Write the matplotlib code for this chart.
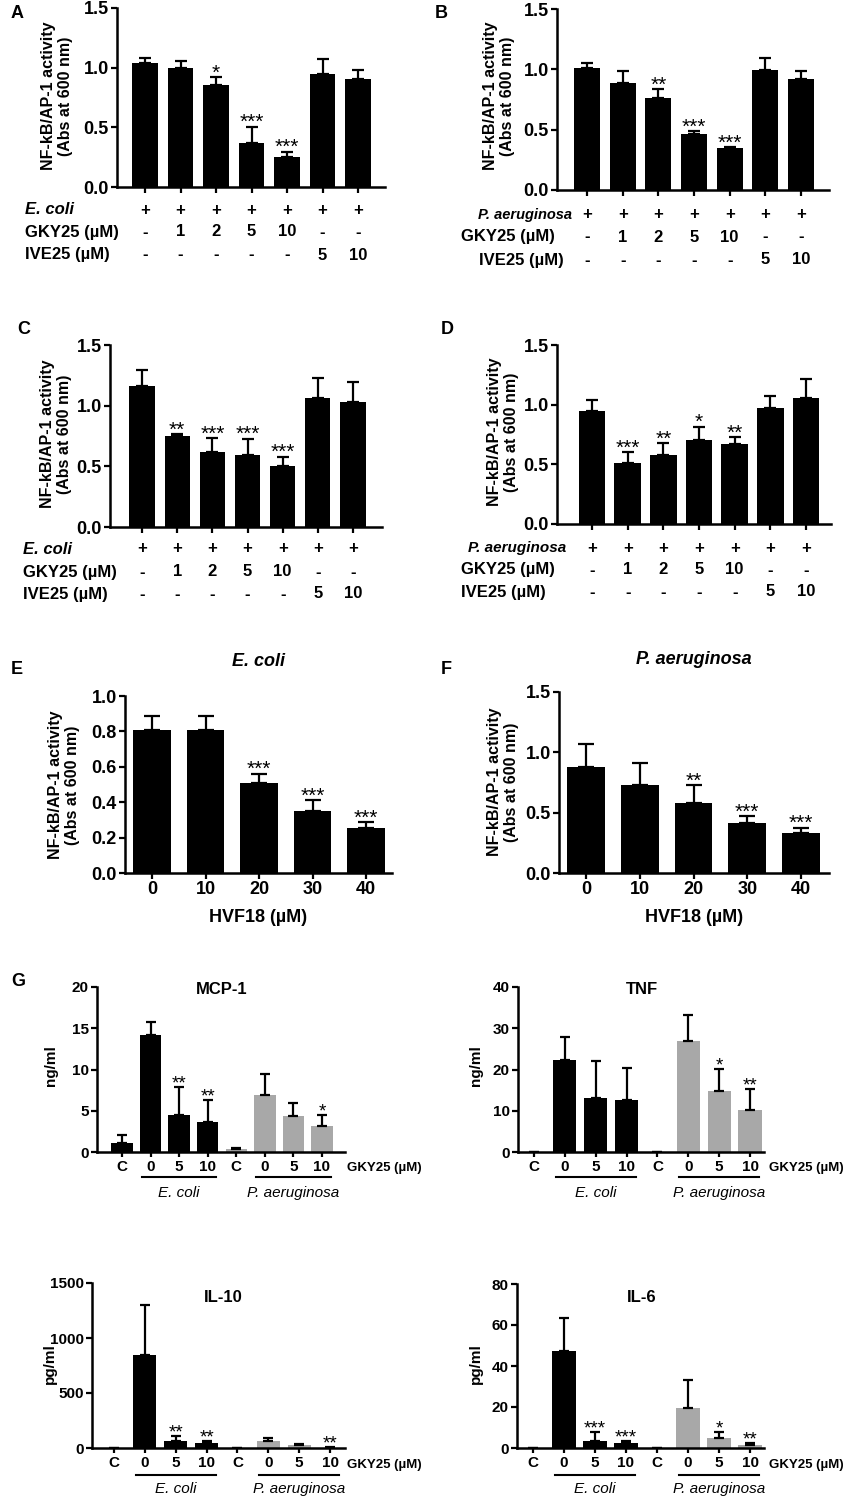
import numpy as np
import matplotlib
matplotlib.use('Agg')
import matplotlib.pyplot as plt

plt.rcParams['font.family'] = ['Liberation Sans', 'DejaVu Sans']
plt.rcParams['font.weight'] = 'bold'

# ---- data: panels A-D (NF-kB/AP-1 reporter, GKY25 / IVE25) ----
bact_row = ['+', '+', '+', '+', '+', '+', '+']
gky_row = ['-', '1', '2', '5', '10', '-', '-']
ive_row = ['-', '-', '-', '-', '-', '5', '10']

A_mean = [1.04, 1.00, 0.855, 0.366, 0.254, 0.947, 0.908]
A_err = [0.04, 0.056, 0.065, 0.14, 0.042, 0.128, 0.07]
A_sig = ['', '', '*', '***', '***', '', '']

B_mean = [1.008, 0.884, 0.765, 0.464, 0.351, 0.992, 0.923]
B_err = [0.047, 0.105, 0.069, 0.025, 0.005, 0.105, 0.06]
B_sig = ['', '', '**', '***', '***', '', '']

C_mean = [1.166, 0.746, 0.622, 0.594, 0.50, 1.061, 1.033]
C_err = [0.132, 0.02, 0.11, 0.133, 0.08, 0.163, 0.166]
C_sig = ['', '**', '***', '***', '***', '', '']

D_mean = [0.95, 0.514, 0.581, 0.704, 0.668, 0.969, 1.056]
D_err = [0.089, 0.086, 0.095, 0.112, 0.058, 0.106, 0.159]
D_sig = ['', '***', '**', '*', '**', '', '']

# ---- data: panels E-F (HVF18) ----
hvf_doses = ['0', '10', '20', '30', '40']
E_mean = [0.806, 0.806, 0.51, 0.35, 0.256]
E_err = [0.082, 0.082, 0.05, 0.06, 0.03]
E_sig = ['', '', '***', '***', '***']
F_mean = [0.88, 0.73, 0.579, 0.416, 0.334]
F_err = [0.193, 0.183, 0.149, 0.053, 0.04]
F_sig = ['', '', '**', '***', '***']

# ---- data: panel G (cytokines) ----
cyto_labels = ['C', '0', '5', '10', 'C', '0', '5', '10']
mcp_mean = [1.06, 14.2, 4.5, 3.66, 0.4, 6.95, 4.39, 3.17]
mcp_err = [1.0, 1.6, 3.35, 2.68, 0.1, 2.48, 1.5, 1.3]
mcp_sig = ['', '', '**', '**', '', '', '', '*']
tnf_mean = [0, 22.4, 13.1, 12.7, 0, 26.8, 14.8, 10.2]
tnf_err = [0, 5.6, 9.0, 7.7, 0, 6.5, 5.3, 5.1]
tnf_sig = ['', '', '', '', '', '', '*', '**']
il10_mean = [0, 849, 63, 42, 0, 63, 24, 2]
il10_err = [0, 453, 46, 22, 0, 25, 16, 3]
il10_sig = ['', '', '**', '**', '', '', '', '**']
il6_mean = [0, 47.4, 3.4, 2.3, 0, 19.6, 5.0, 1.6]
il6_err = [0, 15.9, 4.4, 1.1, 0, 13.7, 2.8, 1.0]
il6_sig = ['', '', '***', '***', '', '', '*', '**']

W, H = 847, 1499
fig = plt.figure(figsize=(W / 100, H / 100), dpi=100)


def fx(px):
    return px / W


def fy(py):
    return 1 - py / H


def panel(left, right, top, bottom, first, last, n, ylim, yticks):
    ax = fig.add_axes([fx(left), fy(bottom), (right - left) / W, (bottom - top) / H])
    step = (last - first) / (n - 1)
    ax.set_xlim((left - first) / step, (right - first) / step)
    ax.set_ylim(*ylim)
    ax.set_yticks(yticks)
    for s in ['top', 'right']:
        ax.spines[s].set_visible(False)
    for s in ['left', 'bottom']:
        ax.spines[s].set_linewidth(1.8)
    ax.set_xticks(np.arange(n))
    ax.tick_params(width=1.6, length=4, pad=2)
    ax.frac = lambda py: (bottom - py) / (bottom - top)
    return ax


def bars(ax, means, errs, sigs, colors, width, capsize, star_size):
    x = np.arange(len(means))
    ax.bar(x, means, width, color=colors, zorder=2)
    ax.errorbar(x, means, yerr=[np.zeros(len(errs)), errs], fmt='none',
                ecolor='black', elinewidth=1.6, capsize=capsize, capthick=1.6,
                zorder=3)
    for xi, m, e, s in zip(x, means, errs, sigs):
        if s:
            ax.annotate(s, (xi, m + e), xytext=(0, -1), textcoords='offset points',
                        ha='center', va='baseline', fontsize=star_size,
                        fontweight='normal')


def ylab(px, py, text, size=11.5):
    fig.text(fx(px), fy(py), text, rotation=90, ha='center', va='center',
             fontsize=size, linespacing=1.15)


def letter(px, py, text):
    fig.text(fx(px), fy(py), text, ha='left', va='center', fontsize=13)


def table(ax, rows_y, label_x, bact, bact_size=12):
    tr = ax.get_xaxis_transform()
    rows = [bact_row, gky_row, ive_row]
    names = [bact, 'GKY25 (µM)', 'IVE25 (µM)']
    for row, name, (py, lx) in zip(rows, names, zip(rows_y, label_x)):
        for i, v in enumerate(row):
            ax.text(i, ax.frac(py), v, transform=tr, ha='center', va='center',
                    fontsize=12)
        if name == bact:
            fig.text(fx(lx), fy(py), name, ha='left', va='center',
                     fontsize=bact_size, style='italic')
        else:
            fig.text(fx(lx), fy(py), name, ha='left', va='center', fontsize=12)


# ---- A ----
abcd_ticks = [0, 0.5, 1.0, 1.5]
ax = panel(117, 385, 8, 187, 145, 358, 7, (0, 1.5), abcd_ticks)
bars(ax, A_mean, A_err, A_sig, 'black', 0.72, 4, 15)
ax.set_xticklabels([])
ax.tick_params(labelsize=13)
table(ax, [210, 232, 255], [25, 25, 25], 'E. coli')
ylab(57, 96, 'NF-kB/AP-1 activity\n(Abs at 600 nm)')
letter(11, 14, 'A')

# ---- B ----
ax = panel(557, 829, 9, 190, 587, 801, 7, (0, 1.5), abcd_ticks)
bars(ax, B_mean, B_err, B_sig, 'black', 0.72, 4, 15)
ax.set_xticklabels([])
ax.tick_params(labelsize=13)
table(ax, [215, 237, 260], [478, 461, 479], 'P. aeruginosa', bact_size=10.5)
ylab(499, 96, 'NF-kB/AP-1 activity\n(Abs at 600 nm)')
letter(435, 14, 'B')

# ---- C ----
ax = panel(110, 382, 345, 527, 142, 353, 7, (0, 1.5), abcd_ticks)
bars(ax, C_mean, C_err, C_sig, 'black', 0.72, 4, 15)
ax.set_xticklabels([])
ax.tick_params(labelsize=13)
table(ax, [549, 572, 594], [23, 23, 23], 'E. coli')
ylab(56, 434, 'NF-kB/AP-1 activity\n(Abs at 600 nm)')
letter(17, 330, 'C')

# ---- D ----
ax = panel(557, 831, 345, 524, 592, 806, 7, (0, 1.5), abcd_ticks)
bars(ax, D_mean, D_err, D_sig, 'black', 0.74, 4, 15)
ax.set_xticklabels([])
ax.tick_params(labelsize=13)
table(ax, [548, 570, 592], [468, 461, 461], 'P. aeruginosa', bact_size=11)
ylab(503, 432, 'NF-kB/AP-1 activity\n(Abs at 600 nm)')
letter(441, 330, 'D')

# ---- E ----
ax = panel(125, 392, 696, 873, 152, 366, 5, (0, 1.0), [0, 0.2, 0.4, 0.6, 0.8, 1.0])
bars(ax, E_mean, E_err, E_sig, 'black', 0.71, 6, 15)
ax.set_xticklabels(hvf_doses)
ax.tick_params(labelsize=13)
ax.yaxis.set_major_formatter(matplotlib.ticker.FormatStrFormatter('%.1f'))
fig.text(fx(258), fy(918), 'HVF18 (µM)', ha='center', va='center', fontsize=13)
fig.text(fx(258), fy(662), 'E. coli', ha='center', va='center', fontsize=13, style='italic')
ylab(64, 785, 'NF-kB/AP-1 activity\n(Abs at 600 nm)')
letter(11, 670, 'E')

# ---- F ----
ax = panel(559, 829, 692, 873, 586, 801, 5, (0, 1.5), abcd_ticks)
bars(ax, F_mean, F_err, F_sig, 'black', 0.7, 6, 15)
ax.set_xticklabels(hvf_doses)
ax.tick_params(labelsize=13)
fig.text(fx(694), fy(918), 'HVF18 (µM)', ha='center', va='center', fontsize=13)
fig.text(fx(694), fy(660), 'P. aeruginosa', ha='center', va='center', fontsize=13, style='italic')
ylab(503, 782, 'NF-kB/AP-1 activity\n(Abs at 600 nm)')
letter(441, 670, 'F')

# ---- G ----
cyto_colors = ['black'] * 4 + ['#a8a8a8'] * 4


def cyto(box, centers, ylim, yticks, means, errs, sigs, title, title_xy, unit, unit_xy,
         gky_xy, line_py, group_py):
    left, right, top, bottom = box
    ax = panel(left, right, top, bottom, centers[0], centers[1], 8, ylim, yticks)
    bars(ax, means, errs, sigs, cyto_colors, 0.75, 3.5, 13.5)
    ax.set_xticklabels(cyto_labels)
    ax.tick_params(axis='y', labelsize=11)
    ax.tick_params(axis='x', labelsize=11, length=3.5)
    tr = ax.get_xaxis_transform()
    for a, b, name in [(1, 3, 'E. coli'), (5, 7, 'P. aeruginosa')]:
        ax.plot([a - 0.3, b + 0.3], [ax.frac(line_py)] * 2, color='black', lw=1.5,
                transform=tr, clip_on=False)
        ax.text((a + b) / 2, ax.frac(group_py), name, transform=tr, ha='center',
                va='center', fontsize=11, style='italic', fontweight='normal')
    fig.text(fx(gky_xy[0]), fy(gky_xy[1]), 'GKY25 (µM)', ha='left', va='center',
             fontsize=9.5)
    fig.text(fx(title_xy[0]), fy(title_xy[1]), title, ha='center', va='center',
             fontsize=12)
    ylab(unit_xy[0], unit_xy[1], unit, size=11)
    return ax


cyto((97, 345, 987, 1152), (122, 322), (0, 20), [0, 5, 10, 15, 20],
     mcp_mean, mcp_err, mcp_sig, 'MCP-1', (222, 990), 'ng/ml', (51, 1066),
     (347, 1168), 1177, 1193)
cyto((518, 764, 987, 1152), (534, 750), (0, 40), [0, 10, 20, 30, 40],
     tnf_mean, tnf_err, tnf_sig, 'TNF', (642, 990), 'ng/ml', (476, 1066),
     (769, 1168), 1177, 1193)
cyto((92, 345, 1283, 1448), (114, 330), (0, 1500), [0, 500, 1000, 1500],
     il10_mean, il10_err, il10_sig, 'IL-10', (223, 1298), 'pg/ml', (50, 1364),
     (347, 1465), 1475, 1489)
cyto((517, 764, 1284, 1448), (533, 750), (0, 80), [0, 20, 40, 60, 80],
     il6_mean, il6_err, il6_sig, 'IL-6', (642, 1297), 'pg/ml', (476, 1364),
     (769, 1465), 1475, 1489)
letter(11, 982, 'G')

fig.savefig('out.png', dpi=100)
